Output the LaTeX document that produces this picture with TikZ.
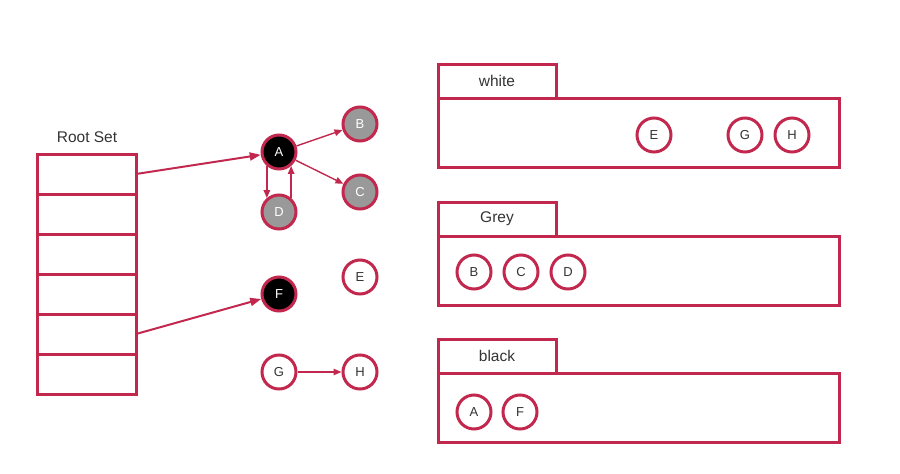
\documentclass[tikz,border=0pt]{standalone}
\usepackage{fontspec}
\setmainfont{Liberation Sans}
\usetikzlibrary{arrows.meta}
\definecolor{gcred}{RGB}{194,40,78}
\definecolor{greyfill}{RGB}{153,153,153}
\definecolor{inktext}{RGB}{51,51,51}
\tikzset{
  obj/.style={circle, draw=gcred, line width=3pt, minimum size=34pt, inner sep=0pt,
    font=\fontsize{13}{15}\selectfont},
  blackobj/.style={obj, fill=black, text=white},
  greyobj/.style={obj, fill=greyfill, text=white},
  whiteobj/.style={obj, fill=white, text=inktext},
  slot/.style={rectangle, draw=gcred, line width=3pt, outer sep=0pt, inner sep=0pt,
    minimum width=99pt, minimum height=40pt, anchor=north west},
  tabbox/.style={rectangle, draw=gcred, line width=3pt, outer sep=0pt, inner sep=0pt,
    minimum width=118pt, minimum height=34pt, anchor=north west, text=inktext,
    font=\fontsize{15.5}{18}\selectfont},
  setbox/.style={rectangle, draw=gcred, line width=3pt, outer sep=0pt, inner sep=0pt,
    minimum width=401pt, minimum height=69pt, anchor=north west},
  ref/.style={draw=gcred, line width=2pt, -{Triangle[length=11pt,width=8pt]}},
  thinref/.style={draw=gcred, line width=1.4pt, -{Triangle[length=8pt,width=6.5pt]}}
}
\begin{document}
\begin{tikzpicture}[x=1pt,y=-1pt]
\useasboundingbox (0,0) rectangle (900,474);

% root set table
\node[text=inktext, font=\fontsize{15.5}{18}\selectfont] (rootlabel) at (87,137) {Root Set};
\foreach \i in {1,...,6} {
  \node[slot] (r\i) at (37,{154+40*(\i-1)}) {};
}

% object graph
\node[blackobj] (A) at (279,152) {A};
\node[greyobj]  (B) at (360,124) {B};
\node[greyobj]  (C) at (360,192) {C};
\node[greyobj]  (D) at (279,212) {D};
\node[whiteobj] (E) at (360,277) {E};
\node[blackobj] (F) at (279,294) {F};
\node[whiteobj] (G) at (279,372) {G};
\node[whiteobj] (H) at (360,372) {H};

\draw[ref] (r1.east) -- (A);
\draw[ref] (r5.east) -- (F);
\draw[thinref] (A) -- (B);
\draw[thinref] (A) -- (C);
\draw[thinref] (A.-131) -- (D.131);
\draw[thinref] (D.49) -- (A.-49);
\draw[thinref] (G) -- (H);

% white set
\node[tabbox] (wtab) at (438,64) {white};
\node[setbox] (wset) at (438,98) {};
\node[whiteobj] (wE) at (654,135) {E};
\node[whiteobj] (wG) at (745,135) {G};
\node[whiteobj] (wH) at (792,135) {H};

% grey set
\node[tabbox] (gtab) at (438,202) {Grey};
\node[setbox] (gset) at (438,236) {};
\node[whiteobj] (gB) at (474,272) {B};
\node[whiteobj] (gC) at (521,272) {C};
\node[whiteobj] (gD) at (568,272) {D};

% black set
\node[tabbox] (btab) at (438,339) {black};
\node[setbox] (bset) at (438,373) {};
\node[whiteobj] (bA) at (474,412) {A};
\node[whiteobj] (bF) at (520,412) {F};
\end{tikzpicture}
\end{document}
